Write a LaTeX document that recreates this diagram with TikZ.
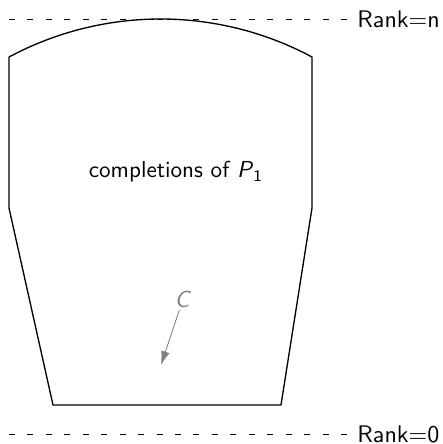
\documentclass[tikz,border=0pt]{standalone}
\usetikzlibrary{arrows.meta,positioning}

\begin{document}
\begin{tikzpicture}[
    x=0.45pt, y=0.45pt,
    every node/.style={font=\sffamily\fontsize{10.4}{12.5}\selectfont},
    region/.style={semithick, line join=round},
    rankline/.style={thin, dash pattern=on 2.7pt off 5.6pt},
    ranklabel/.style={anchor=west, inner sep=0pt, font=\sffamily\fontsize{10.8}{13}\selectfont},
    clabel/.style={text=gray, inner sep=1pt},
    pointer/.style={-{Latex[length=2.2mm, width=1.4mm]}, gray}
]
\useasboundingbox (0,0) rectangle (443,444);
% rank levels
\coordinate (topstart) at (9,425);
\coordinate (botstart) at (9,10);
\node[ranklabel] (rankn) at (357,425) {Rank=n};
\node[ranklabel] (rank0) at (357,10) {Rank=0};
\draw[rankline] (topstart) -- ([xshift=-2pt]rankn.west);
\draw[rankline] (botstart) -- ([xshift=-2pt]rank0.west);
% the region of completions
\draw[region] (312,387) arc[start angle=61.84, end angle=118.16, radius=321]
    -- (9,236) -- (53,39) -- (281,39) -- (312,236) -- cycle;
\node (compl) at (176,272) {completions of \textit{P}\textsubscript{1}};
% the point C
\node[clabel] (cpt) at (183,145) {\textit{C}};
\coordinate (ctip) at (161,79);
\draw[pointer] (cpt) -- (ctip);
\end{tikzpicture}
\end{document}
